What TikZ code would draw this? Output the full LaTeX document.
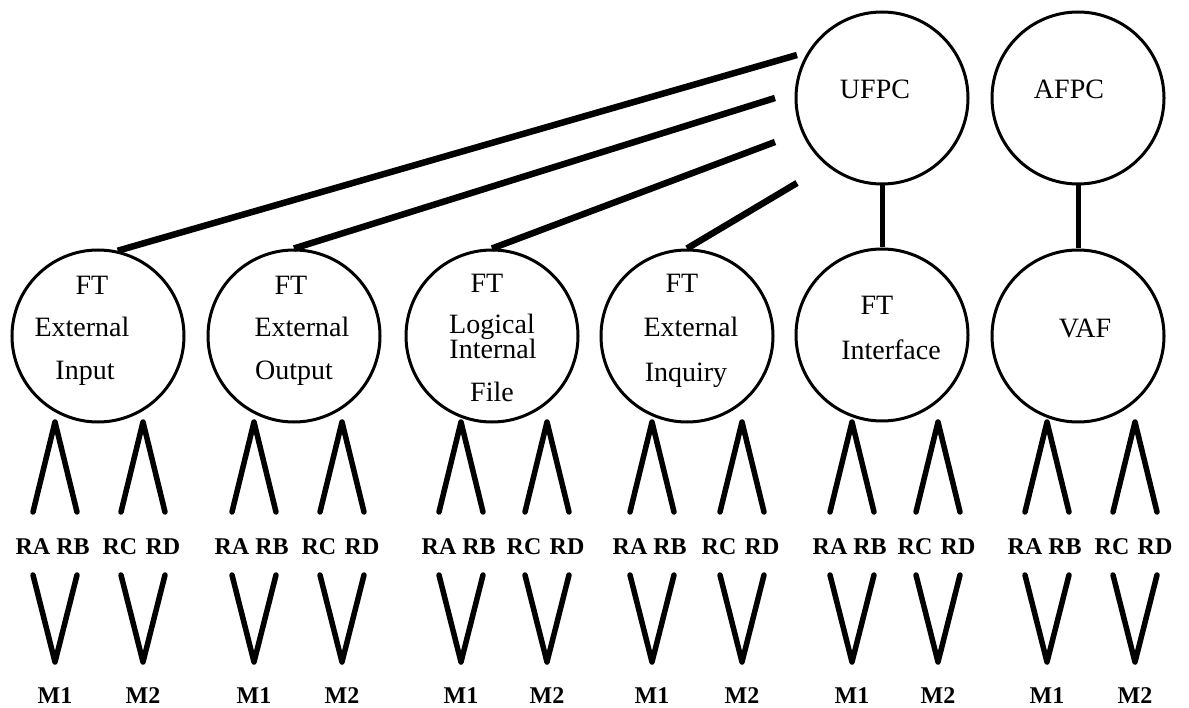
\documentclass[tikz,border=0pt]{standalone}
\usepackage{fontspec}
\setmainfont{Liberation Serif}
\begin{document}
\begin{tikzpicture}[x=1pt,y=-1pt,
  bubble/.style={circle,draw,line width=3pt,minimum size=172pt,inner sep=0pt},
  ctext/.style={anchor=base,inner sep=0pt,font=\fontsize{28}{30}\selectfont},
  rlab/.style={anchor=base,inner sep=0pt,font=\fontsize{24}{26}\selectfont\bfseries},
  link/.style={line width=6.5pt},
  stem/.style={line width=5pt},
  leg/.style={line width=5.5pt,line cap=round,line join=round}]
\useasboundingbox (0,0) rectangle (1189,708);

% upper circles
\node[bubble] (ufpc) at (882,98) {};
\node[bubble] (afpc) at (1078,98) {};
\node[ctext] (tufpc) at (875,99) {UFPC};
\node[ctext] (tafpc) at (1069,99) {AFPC};

% lower circles
\node[bubble] (c1) at (98,336) {};
\node[bubble] (c2) at (294,336) {};
\node[bubble] (c3) at (492,336) {};
\node[bubble] (c4) at (687,336) {};
\node[bubble] (c5) at (882,335) {};
\node[bubble] (c6) at (1078,336) {};

\node[ctext] (t1a) at (92,295) {FT};
\node[ctext] (t1b) at (82,337) {External};
\node[ctext] (t1c) at (85,380) {Input};

\node[ctext] (t2a) at (291,295) {FT};
\node[ctext] (t2b) at (302,337) {External};
\node[ctext] (t2c) at (294,380) {Output};

\node[ctext] (t3a) at (487,293) {FT};
\node[ctext] (t3b) at (492,334) {Logical};
\node[ctext] (t3c) at (493,359) {Internal};
\node[ctext] (t3d) at (492,402) {File};

\node[ctext] (t4a) at (682,293) {FT};
\node[ctext] (t4b) at (691,337) {External};
\node[ctext] (t4c) at (686,382) {Inquiry};

\node[ctext] (t5a) at (877,315) {FT};
\node[ctext] (t5b) at (891,360) {Interface};

\node[ctext] (t6a) at (1085,338) {VAF};

% free ends of the slanted links
\coordinate (e1) at (797,55);
\coordinate (e2) at (775,98);
\coordinate (e3) at (775,142);
\coordinate (e4) at (797,183);

\draw[link] (c1.77) -- (e1);
\draw[link] (c2.north) -- (e2);
\draw[link] (c3.north) -- (e3);
\draw[link] (c4.north) -- (e4);

\draw[stem] (ufpc.south) -- (c5.north);
\draw[stem] (afpc.south) -- (c6.north);

% carets and labels
\foreach \n/\a/\b in {1/55/143, 2/254/342, 3/461/547, 4/652/742, 5/852/938, 6/1047/1135} {
  \coordinate (pa\n) at (\a,422);
  \coordinate (pb\n) at (\b,422);
  \coordinate (la\n) at (\a-22,512);
  \coordinate (ra\n) at (\a+22,512);
  \coordinate (lb\n) at (\b-22,512);
  \coordinate (rb\n) at (\b+22,512);
  \draw[leg] (la\n) -- (pa\n) -- (ra\n);
  \draw[leg] (lb\n) -- (pb\n) -- (rb\n);
  \node[rlab] (RA\n) at (\a-22,554) {RA};
  \node[rlab] (RB\n) at (\a+18,554) {RB};
  \node[rlab] (RC\n) at (\b-23,554) {RC};
  \node[rlab] (RD\n) at (\b+20,554) {RD};
  \coordinate (va\n) at (\a,662);
  \coordinate (vb\n) at (\b,662);
  \coordinate (vla\n) at (\a-22,575);
  \coordinate (vra\n) at (\a+22,575);
  \coordinate (vlb\n) at (\b-22,575);
  \coordinate (vrb\n) at (\b+22,575);
  \draw[leg] (vla\n) -- (va\n) -- (vra\n);
  \draw[leg] (vlb\n) -- (vb\n) -- (vrb\n);
  \node[rlab] (M1\n) at (\a,703) {M1};
  \node[rlab] (M2\n) at (\b,703) {M2};
}
\end{tikzpicture}
\end{document}
